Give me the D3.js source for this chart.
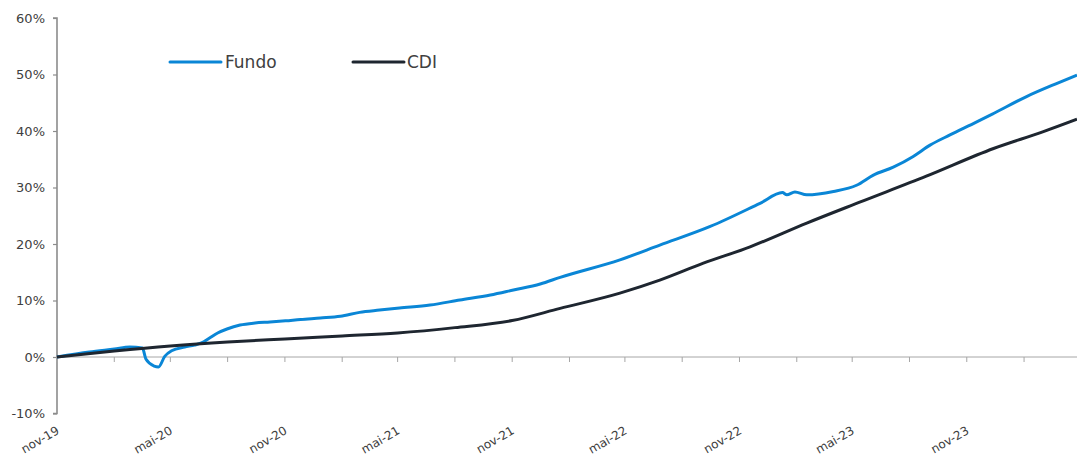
<!DOCTYPE html>
<html>
<head>
<meta charset="utf-8">
<script src="https://cdn.jsdelivr.net/npm/d3@7"></script>
<style>
  html, body { margin: 0; padding: 0; background: #fff; }
  svg { display: block; }
  text { font-family: "DejaVu Sans", sans-serif; fill: #404040; }
</style>
</head>
<body>
<svg id="chart" width="1077" height="459"></svg>
<script>
// ---------- data ----------
const fundoDates = ["2019-11-01","2019-12-23","2020-02-01","2020-02-26","2020-03-17","2020-03-23","2020-04-05","2020-04-12","2020-04-22","2020-05-03","2020-05-24","2020-06-09","2020-06-20","2020-07-03","2020-07-16","2020-07-31","2020-08-21","2020-09-14","2020-10-08","2020-11-02","2020-11-26","2020-12-28","2021-01-29","2021-03-01","2021-04-02","2021-05-04","2021-06-22","2021-08-09","2021-09-27","2021-11-03","2021-12-16","2022-01-17","2022-04-23","2022-06-26","2022-09-15","2022-12-04","2023-01-09","2023-01-16","2023-01-29","2023-02-17","2023-04-01","2023-05-08","2023-06-04","2023-07-06","2023-08-07","2023-09-03","2023-10-05","2023-11-17","2023-12-14","2024-02-05","2024-03-24","2024-04-26"];
const fundoValues = [0, 0.88, 1.42, 1.77, 1.6, -0.4, -1.6, -1.75, 0.1, 1.1, 1.77, 2.12, 2.48, 3.36, 4.25, 4.96, 5.66, 6.02, 6.19, 6.4, 6.65, 6.9, 7.2, 7.9, 8.3, 8.67, 9.2, 10.09, 10.97, 11.86, 12.92, 14.1, 17.2, 19.8, 23.1, 27.2, 29.1, 28.7, 29.2, 28.7, 29.3, 30.4, 32.2, 33.6, 35.5, 37.5, 39.3, 41.6, 43.1, 46.1, 48.4, 49.9];

const cdiDates = ["2019-11-01","2020-02-01","2020-05-01","2020-08-01","2020-11-01","2021-02-01","2021-05-01","2021-08-01","2021-11-01","2022-01-17","2022-04-23","2022-06-26","2022-09-04","2022-11-18","2023-02-17","2023-05-13","2023-08-28","2023-12-14","2024-03-03","2024-04-26"];
const cdiValues = [0, 1.06, 1.95, 2.65, 3.19, 3.72, 4.25, 5.2, 6.45, 8.6, 11.3, 13.6, 16.6, 19.5, 23.7, 27.4, 32.0, 36.9, 39.9, 42.1];

const seriesNames = ["Fundo", "CDI"];
const yTickValues = [-10, 0, 10, 20, 30, 40, 50, 60];
const xTickLabels = ["nov-19","mai-20","nov-20","mai-21","nov-21","mai-22","nov-22","mai-23","nov-23"];

// ---------- setup ----------
const parse = d3.timeParse("%Y-%m-%d");
const svg = d3.select("#chart");
const startDate = parse("2019-11-01");
const endDate = parse("2024-04-26");

const x = d3.scaleTime().domain([startDate, endDate]).range([57, 1077]);
const y = d3.scaleLinear().domain([-10, 60]).range([413.5, 18]);

const colors = { Fundo: "#0a86d6", CDI: "#1e2630" };
const axisColor = "#8c8c8c";

// ---------- y axis ----------
const yAxis = d3.axisLeft(y).tickValues(yTickValues).tickSize(4).tickPadding(8)
  .tickFormat(d => d + "%");
const gy = svg.append("g").attr("transform", "translate(57,0)").call(yAxis);
gy.select(".domain").attr("stroke", axisColor).attr("stroke-width", 1.6)
  .attr("d", `M-4,${y(60)}H0V${y(-10)}H-4`);
gy.selectAll(".tick line").attr("stroke", axisColor).attr("stroke-width", 1.2);
gy.selectAll(".tick text").style("font-size", "13px").attr("fill", "#404040");

// ---------- x axis (at 0%) ----------
const tickDates = d3.range(0, 54, 3).map(i => d3.timeMonth.offset(startDate, i));
const gx = svg.append("g").attr("transform", `translate(0,${y(0)})`);
gx.append("line").attr("x1", 57).attr("x2", 1077).attr("y1", 0).attr("y2", 0)
  .attr("stroke", "#a6a6a6").attr("stroke-width", 1);
gx.selectAll("line.tk").data(tickDates).join("line").attr("class", "tk")
  .attr("x1", d => x(d)).attr("x2", d => x(d)).attr("y1", 0).attr("y2", 5)
  .attr("stroke", "#a6a6a6").attr("stroke-width", 1);

// labels low (below plot), rotated
const labelDates = xTickLabels.map((_, i) => d3.timeMonth.offset(startDate, i * 6));
const lg = svg.selectAll("g.xl").data(xTickLabels).join("g").attr("class", "xl")
  .attr("transform", (d, i) => `translate(${x(labelDates[i]) + 3},433)`);
lg.append("text")
  .attr("text-anchor", "end")
  .attr("transform", "rotate(-30)")
  .style("font-size", "12px")
  .text(d => d);

// ---------- lines ----------
const fundo = fundoDates.map((d, i) => ({ date: parse(d), v: fundoValues[i] }));
const cdi = cdiDates.map((d, i) => ({ date: parse(d), v: cdiValues[i] }));
const line = d3.line().x(d => x(d.date)).y(d => y(d.v)).curve(d3.curveMonotoneX);

svg.append("path").datum(fundo).attr("d", line).attr("fill", "none")
  .attr("stroke", colors.Fundo).attr("stroke-width", 3).attr("stroke-linejoin", "round");
svg.append("path").datum(cdi).attr("d", line).attr("fill", "none")
  .attr("stroke", colors.CDI).attr("stroke-width", 3).attr("stroke-linejoin", "round");

// ---------- legend ----------
const legendPos = [{ x1: 170, x2: 221, tx: 225 }, { x1: 353, x2: 404, tx: 407 }];
seriesNames.forEach((name, i) => {
  const p = legendPos[i];
  svg.append("line").attr("x1", p.x1).attr("x2", p.x2).attr("y1", 62).attr("y2", 62)
    .attr("stroke", colors[name]).attr("stroke-width", 3).attr("stroke-linecap", "round");
  svg.append("text").attr("x", p.tx).attr("y", 68).style("font-size", "17px").text(name);
});
</script>
</body>
</html>
